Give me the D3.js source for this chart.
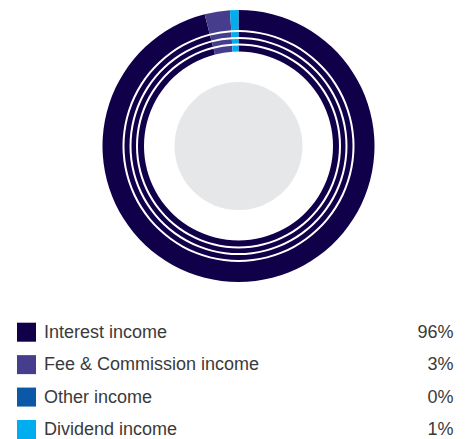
<!DOCTYPE html>
<html>
<head>
<meta charset="utf-8">
<script src="https://cdn.jsdelivr.net/npm/d3@7"></script>
<style>
  html, body { margin: 0; padding: 0; background: #ffffff; }
  svg { display: block; }
</style>
</head>
<body>
<svg id="chart" width="470" height="439"></svg>
<script>
// Income mix by source
const categories = ["Interest income", "Fee & Commission income", "Other income", "Dividend income"];
const shares = [96, 3, 0, 1];
const shareLabels = ["96%", "3%", "0%", "1%"];
const colors = ["#10004a", "#463e8c", "#0a58a6", "#00aeef"];

const svg = d3.select("#chart");
const W = 470;
const cx = 238.5, cy = 146;

// donut split into concentric bands separated by thin white gaps
const bands = [
  { inner: 116, outer: 136 },
  { inner: 109, outer: 114 },
  { inner: 102.5, outer: 107 },
  { inner: 94.5, outer: 100.5 }
];

const pie = d3.pie().sort(null).value(d => d.value);
const arcs = pie(categories.map((c, i) => ({ name: c, value: shares[i], color: colors[i] })));

const g = svg.append("g").attr("transform", `translate(${cx},${cy})`);

bands.forEach(b => {
  const arc = d3.arc().innerRadius(b.inner).outerRadius(b.outer);
  g.append("g").selectAll("path")
    .data(arcs.filter(a => a.data.value > 0))
    .join("path")
    .attr("d", arc)
    .attr("fill", a => a.data.color);
});

// centre disc
g.append("circle").attr("r", 64).attr("fill", "#e6e7e8");

// legend
const rowY = d3.scalePoint().domain(categories).range([337.7, 435]);
const legend = svg.append("g");
const rows = legend.selectAll("g").data(categories).join("g")
  .attr("transform", d => `translate(0,${rowY(d)})`);

rows.append("rect")
  .attr("x", 17).attr("y", -15).attr("width", 19).attr("height", 19)
  .attr("fill", (d, i) => colors[i]);

rows.append("text")
  .attr("x", 44).attr("y", 0)
  .attr("font-family", "'Liberation Sans', Arial, Helvetica, sans-serif")
  .attr("font-size", 18)
  .attr("fill", "#3a3a3a")
  .text(d => d);

rows.append("text")
  .attr("x", 453.5).attr("y", 0)
  .attr("text-anchor", "end")
  .attr("font-family", "'Liberation Sans', Arial, Helvetica, sans-serif")
  .attr("font-size", 18)
  .attr("fill", "#3a3a3a")
  .text((d, i) => shareLabels[i]);
</script>
</body>
</html>
